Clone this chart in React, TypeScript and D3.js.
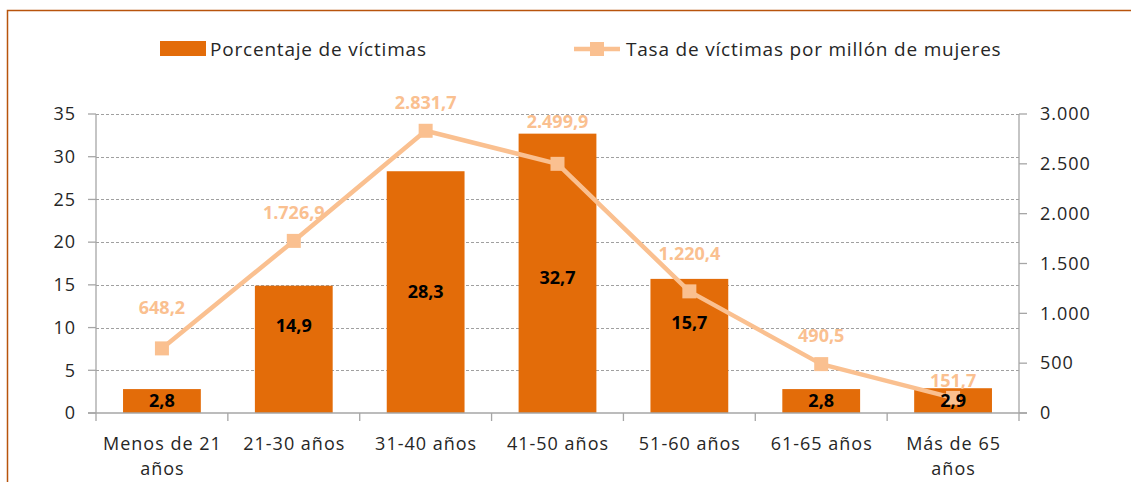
import * as d3 from 'd3'
import { useEffect, useRef } from 'react'

const categories = [
  'Menos de 21|años',
  '21-30 años',
  '31-40 años',
  '41-50 años',
  '51-60 años',
  '61-65 años',
  'Más de 65|años',
]
const porcentaje = [2.8, 14.9, 28.3, 32.7, 15.7, 2.8, 2.9]
const tasa = [648.2, 1726.9, 2831.7, 2499.9, 1220.4, 490.5, 151.7]
const leftTicks = [0, 5, 10, 15, 20, 25, 30, 35]
const rightTicks = [0, 500, 1000, 1500, 2000, 2500, 3000]

// label nudges (the original had some labels moved by hand)
const barLabelShift = [0, -24, 0, 4, -23, 0, 0]
const lineLabelShift = [-41, -28, -28, -42, -38, -28, -17]

const W = 1131
const H = 482
const FONT = '"Open Sans", Lato, sans-serif'
const BAR = '#E36C09'
const LINE = '#FAC090'

const fmt = (v: number, dec: number) => {
  const s = v.toFixed(dec)
  const [i, d] = s.split('.')
  const ii = i.replace(/\B(?=(\d{3})+(?!\d))/g, '.')
  return d ? `${ii},${d}` : ii
}

export default function App() {
  const ref = useRef<SVGSVGElement>(null)

  useEffect(() => {
    if (!ref.current) return
    const svg = d3.select(ref.current)
    svg.selectAll('*').remove()

    const m = { left: 96, right: 1019, top: 114, bottom: 413 }

    svg.append('rect').attr('x', 7.5).attr('y', 10.5).attr('width', 1300).attr('height', 600)
      .attr('fill', 'white').attr('stroke', '#B8540C').attr('stroke-width', 1.5)

    const x = d3.scaleBand().domain(categories).range([m.left, m.right]).paddingInner(0.41).paddingOuter(0.205)
    const xb = d3.scaleBand().domain(categories).range([m.left, m.right])
    const yL = d3.scaleLinear().domain([0, 35]).range([m.bottom, m.top])
    const yR = d3.scaleLinear().domain([0, 3000]).range([m.bottom, m.top])

    // grid
    svg.append('g').selectAll('line').data(leftTicks.slice(1)).join('line')
      .attr('x1', m.left).attr('x2', m.right)
      .attr('y1', d => Math.round(yL(d)) + 0.5).attr('y2', d => Math.round(yL(d)) + 0.5)
      .attr('stroke', '#A0A0A0').attr('stroke-dasharray', '3,2')

    // bars
    svg.append('g').selectAll('rect').data(porcentaje).join('rect')
      .attr('x', (_, i) => x(categories[i])!)
      .attr('width', x.bandwidth())
      .attr('y', d => yL(d))
      .attr('height', d => yL(0) - yL(d))
      .attr('fill', BAR)

    // axes
    const ax = svg.append('g').attr('stroke', '#A6A6A6').attr('stroke-width', 1.3)
    ax.append('line').attr('x1', m.left).attr('x2', m.left).attr('y1', m.top).attr('y2', m.bottom + 8)
    ax.append('line').attr('x1', m.right).attr('x2', m.right).attr('y1', m.top).attr('y2', m.bottom + 8)
    ax.append('line').attr('x1', m.left - 8).attr('x2', m.right + 8).attr('y1', m.bottom).attr('y2', m.bottom)
    ax.selectAll('.tl').data(leftTicks).join('line')
      .attr('x1', m.left - 8).attr('x2', m.left).attr('y1', d => yL(d)).attr('y2', d => yL(d))
    ax.selectAll('.tr').data(rightTicks).join('line')
      .attr('x1', m.right).attr('x2', m.right + 8).attr('y1', d => yR(d)).attr('y2', d => yR(d))
    ax.selectAll('.tb').data(categories.slice(1)).join('line')
      .attr('x1', d => xb(d)!).attr('x2', d => xb(d)!).attr('y1', m.bottom).attr('y2', m.bottom + 8)

    const txt = svg.append('g').attr('font-family', FONT).attr('font-size', 18)
      .attr('letter-spacing', 1).attr('fill', '#262626')
    txt.selectAll('.ll').data(leftTicks).join('text')
      .attr('x', m.left - 20).attr('y', d => yL(d)).attr('dy', '0.35em').attr('text-anchor', 'end')
      .text(d => d)
    txt.selectAll('.rl').data(rightTicks).join('text')
      .attr('x', m.right + 21).attr('y', d => yR(d)).attr('dy', '0.35em')
      .text(d => fmt(d, 0))
    categories.forEach(c => {
      const cxc = xb(c)! + xb.bandwidth() / 2 + 0.5
      const t = txt.append('text').attr('x', cxc).attr('y', 450).attr('text-anchor', 'middle')
      c.split('|').forEach((p, j) => t.append('tspan').attr('x', cxc).attr('dy', j ? 25 : 0).text(p))
    })

    // line
    const cx = (i: number) => xb(categories[i])! + xb.bandwidth() / 2
    svg.append('path').datum(tasa)
      .attr('d', d3.line<number>().x((_, i) => cx(i)).y(d => yR(d)))
      .attr('fill', 'none').attr('stroke', LINE).attr('stroke-width', 4.5).attr('stroke-linejoin', 'round')
    svg.append('g').selectAll('rect').data(tasa).join('rect')
      .attr('x', (_, i) => cx(i) - 7).attr('y', d => yR(d) - 7).attr('width', 14).attr('height', 14)
      .attr('fill', LINE)

    // bar labels
    svg.append('g').selectAll('text').data(porcentaje).join('text')
      .attr('x', (_, i) => cx(i))
      .attr('y', (d, i) => (yL(d) + yL(0)) / 2 + barLabelShift[i])
      .attr('dy', '0.35em').attr('text-anchor', 'middle')
      .attr('font-family', FONT).attr('font-size', 18).attr('font-weight', 'bold').attr('fill', '#000')
      .text(d => fmt(d, 1))

    // line labels
    svg.append('g').selectAll('text').data(tasa).join('text')
      .attr('x', (_, i) => cx(i))
      .attr('y', (d, i) => yR(d) + lineLabelShift[i])
      .attr('dy', '0.35em').attr('text-anchor', 'middle')
      .attr('font-family', FONT).attr('font-size', 18).attr('font-weight', 'bold').attr('fill', LINE)
      .text(d => fmt(d, 1))

    // legend
    const lg = svg.append('g').attr('font-family', FONT).attr('font-size', 19)
      .attr('letter-spacing', 0.8).attr('fill', '#262626')
    lg.append('rect').attr('x', 160).attr('y', 41).attr('width', 46).attr('height', 15).attr('fill', BAR)
    lg.append('text').attr('x', 210).attr('y', 49).attr('dy', '0.35em').text('Porcentaje de víctimas')
    lg.append('line').attr('x1', 574).attr('x2', 620).attr('y1', 49).attr('y2', 49)
      .attr('stroke', LINE).attr('stroke-width', 4.5)
    lg.append('rect').attr('x', 590).attr('y', 42).attr('width', 14).attr('height', 14).attr('fill', LINE)
    lg.append('text').attr('x', 626).attr('y', 49).attr('dy', '0.35em').text('Tasa de víctimas por millón de mujeres')
  }, [])

  return (
    <svg ref={ref} width={W} height={H} style={{ position: 'absolute', left: 0, top: 0, background: 'white' }} />
  )
}
